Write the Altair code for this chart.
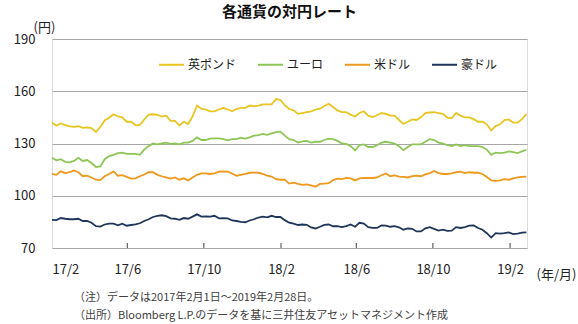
import altair as alt
import pandas as pd

# Weekly samples (Feb 2017 - Feb 2019)
DATES = pd.date_range("2017-02-01", periods=109, freq="7D").strftime("%Y-%m-%d").tolist()

GBP = [142.0, 140.2, 141.5, 140.6,
       139.8, 139.5, 139.9, 139.0, 139.2,
       138.8, 136.6, 139.5, 143.2,
       144.8, 146.8, 145.5, 145.0, 142.5,
       142.5, 140.6, 140.6, 143.8,
       146.6, 146.8, 146.5, 145.5,
       146.0, 143.0, 143.0, 140.3, 142.5,
       141.2, 145.5, 151.8, 150.0,
       149.5, 148.5, 148.5, 149.5,
       150.5, 149.5, 148.5, 149.8, 150.5,
       150.5, 151.8, 151.5, 151.8,
       152.5, 152.5, 152.5, 155.5, 155.0,
       152.0, 149.8, 149.0, 147.0,
       147.5, 148.0, 148.5, 149.5,
       150.0, 151.5, 152.8, 151.0,
       149.0, 148.0, 148.0, 146.5, 145.5,
       147.5, 148.5, 146.0, 145.2,
       146.2, 147.5, 147.0, 146.0,
       146.0, 143.5, 141.2, 142.5, 143.8,
       143.5, 145.0, 147.5, 147.8,
       148.0, 147.5, 147.0, 144.8, 144.5,
       147.5, 146.0, 145.0, 145.0,
       144.0, 142.5, 142.5, 141.0,
       137.5, 140.0, 141.0, 143.5, 143.8,
       142.0, 142.0, 144.0, 147.0]

EUR = [121.8, 120.3, 121.0, 119.5,
       119.2, 120.0, 121.8, 120.0, 120.5,
       118.8, 116.5, 116.8, 121.0,
       122.8, 123.5, 124.5, 124.8, 124.0,
       124.0, 124.0, 123.5, 126.5,
       128.5, 130.0, 129.5, 130.0,
       130.5, 129.8, 130.0, 129.5, 130.5,
       130.5, 131.5, 133.5, 132.0,
       132.0, 132.8, 133.0, 133.0,
       132.5, 131.8, 132.5, 132.5, 133.3,
       132.8, 133.5, 134.5, 134.8,
       135.5, 135.0, 135.8, 136.5, 136.8,
       134.5, 132.5, 132.0, 130.5,
       131.2, 131.5, 130.5, 131.0,
       131.0, 132.0, 132.8, 132.5,
       131.5, 130.0, 129.8, 128.5, 126.0,
       129.0, 129.5, 128.0, 128.0,
       129.0, 130.5, 131.0, 130.5,
       130.0, 128.5, 126.2, 128.0, 129.5,
       129.5, 129.5, 131.0, 132.5,
       132.0, 130.5, 130.0, 129.0, 128.5,
       129.5, 128.5, 129.0, 128.5,
       128.5, 128.5, 128.0, 126.5,
       123.5, 124.8, 124.5, 124.8, 125.5,
       125.0, 124.5, 125.5, 126.3]

USD = [112.6, 112.0, 114.0, 113.0,
       113.5, 114.5, 113.5, 111.2, 111.5,
       110.5, 109.2, 109.0, 111.2,
       112.5, 114.0, 111.5, 111.8, 110.8,
       109.8, 110.0, 111.2, 112.2,
       113.5, 113.5, 112.0, 111.2,
       110.5, 109.8, 110.5, 109.2, 110.0,
       108.8, 110.5, 112.0, 112.8,
       112.8, 112.5, 112.8, 113.8,
       114.0, 113.8, 112.8, 111.5, 112.0,
       112.5, 113.2, 113.3, 113.2,
       112.5, 111.5, 111.0, 109.5, 109.2,
       109.3, 107.0, 107.5, 106.8,
       106.2, 106.5, 106.0, 105.2,
       106.8, 107.0, 107.2, 109.0,
       109.8, 109.5, 110.3, 110.0, 108.8,
       110.0, 110.3, 110.2, 110.2,
       110.5, 111.8, 112.8, 111.2,
       111.7, 111.0, 110.8, 110.5, 111.2,
       111.5, 111.2, 112.3, 113.0,
       114.2, 113.0, 112.5, 112.5, 112.8,
       113.5, 113.8, 113.0, 113.5,
       113.2, 113.3, 112.5, 110.8,
       108.8, 108.5, 108.8, 109.5, 109.2,
       110.0, 110.5, 110.8, 111.0]

AUD = [86.2, 86.0, 87.2, 86.8,
       86.5, 86.5, 86.8, 85.5, 85.5,
       84.5, 82.5, 82.3, 83.5,
       84.0, 84.0, 83.0, 84.0, 82.8,
       83.2, 83.5, 84.2, 85.5,
       86.5, 87.8, 88.5, 88.8,
       88.3, 87.0, 86.8, 86.2, 87.2,
       86.8, 88.0, 89.3, 88.0,
       88.2, 88.0, 88.5, 87.0,
       87.2, 87.0, 85.8, 85.5, 85.0,
       84.8, 85.8, 86.5, 87.5,
       88.0, 87.6, 88.5, 87.8, 87.8,
       86.0, 84.5, 84.0, 83.2,
       83.5, 83.3, 81.8, 81.2,
       82.2, 83.3, 83.5, 82.5,
       82.5, 82.0, 82.6, 83.5, 82.2,
       84.5, 84.0, 82.0, 81.5,
       81.5, 83.0, 82.8, 82.2,
       82.5, 81.9, 80.5, 81.2, 81.0,
       79.5, 79.5, 81.3, 82.0,
       81.0, 80.0, 80.5, 79.8, 80.0,
       82.0, 81.5, 82.0, 82.8,
       83.0, 81.5, 80.5, 78.5,
       76.0, 78.5, 78.2, 78.5, 79.0,
       78.0, 78.3, 78.8, 79.0]

SERIES_NAMES = ["英ポンド", "ユーロ", "米ドル", "豪ドル"]
COLORS = ["#E8C520", "#8EC655", "#EE981C", "#1F355A"]
Y_TICKS = [70, 100, 130, 160, 190]
X_DOMAIN = ["2017-02-01", "2019-02-28"]
X_TICK_DATES = ["2017-02-01", "2017-06-01", "2017-10-01", "2018-02-01",
                "2018-06-01", "2018-10-01", "2019-02-01"]
TITLE = "各通貨の対円レート"
NOTES = ["（注）データは2017年2月1日～2019年2月28日。",
         "（出所）Bloomberg L.P.のデータを基に三井住友アセットマネジメント作成"]

FONT = "Noto Sans CJK JP"


def dt(s):
    y, m, d = (int(p) for p in s.split("-"))
    return alt.DateTime(year=y, month=m, date=d, utc=True)


rows = []
for name, vals in zip(SERIES_NAMES, [GBP, EUR, USD, AUD]):
    for d, v in zip(DATES, vals):
        rows.append({"date": d, "currency": name, "value": v})
df = pd.DataFrame(rows)

x_scale = alt.Scale(type="utc", domain=[dt(X_DOMAIN[0]), dt(X_DOMAIN[1])])

lines = alt.Chart(df).mark_line(strokeWidth=1.8).encode(
    x=alt.X("date:T", scale=x_scale,
            axis=alt.Axis(values=[dt(s) for s in X_TICK_DATES],
                          labelExpr="utcFormat(datum.value, '%y/%-m')",
                          ticks=False, domain=False, grid=False,
                          labelFontSize=13, labelColor="#222222", labelPadding=15,
                          labelFont=FONT,
                          title="(年/月)", titleAngle=0, titleX=484, titleY=26,
                          titleAlign="left", titleBaseline="middle",
                          titleFontSize=13, titleFontWeight="normal",
                          titleColor="#222222", titleFont=FONT)),
    y=alt.Y("value:Q", scale=alt.Scale(domain=[70, 190], nice=False, zero=False),
            axis=alt.Axis(values=Y_TICKS, ticks=False, domain=False, grid=True,
                          gridColor="#A6A6A6", gridWidth=1,
                          labelFontSize=13, labelColor="#222222", labelPadding=17,
                          labelFont=FONT,
                          title="(円)", titleAngle=0, titleX=-8, titleY=-12,
                          titleAlign="center", titleBaseline="middle",
                          titleFontSize=13, titleFontWeight="normal",
                          titleColor="#222222", titleFont=FONT)),
    color=alt.Color("currency:N",
                    scale=alt.Scale(domain=SERIES_NAMES, range=COLORS),
                    legend=alt.Legend(title=None, orient="none", legendX=106, legendY=12,
                                      direction="horizontal", symbolType="stroke",
                                      symbolSize=625, symbolStrokeWidth=2,
                                      labelFontSize=12, labelFont=FONT,
                                      labelColor="#222222", labelOffset=3,
                                      columnPadding=17, padding=0)),
    order=alt.Order("date:T"),
)

tick_df = pd.DataFrame({"date": X_TICK_DATES[1:]})
ticks = alt.Chart(tick_df).mark_rule(color="#404040", strokeWidth=1).encode(
    x=alt.X("date:T", scale=x_scale),
    y=alt.value(209), y2=alt.value(204),
)

note1 = alt.Chart(pd.DataFrame({"t": [NOTES[0]]})).mark_text(
    align="left", baseline="middle", fontSize=11, font=FONT, color="#404040"
).encode(text="t:N", x=alt.value(22), y=alt.value(259))
note2 = alt.Chart(pd.DataFrame({"t": [NOTES[1]]})).mark_text(
    align="left", baseline="middle", fontSize=11, font=FONT, color="#404040"
).encode(text="t:N", x=alt.value(22), y=alt.value(277))

chart = alt.layer(lines, ticks, note1, note2).properties(
    width=475, height=209,
    title=alt.TitleParams(TITLE, fontSize=15, fontWeight="bold", font=FONT,
                          color="#111111", anchor="middle", frame="group",
                          offset=1),
    autosize=alt.AutoSizeParams(type="none"),
    padding={"left": 52, "top": 39, "right": 51, "bottom": 76},
).configure_view(stroke="#3A3A3A", strokeWidth=1.3).configure(font=FONT)

chart.save("out.html", embed_options={"renderer": "svg", "actions": False})
